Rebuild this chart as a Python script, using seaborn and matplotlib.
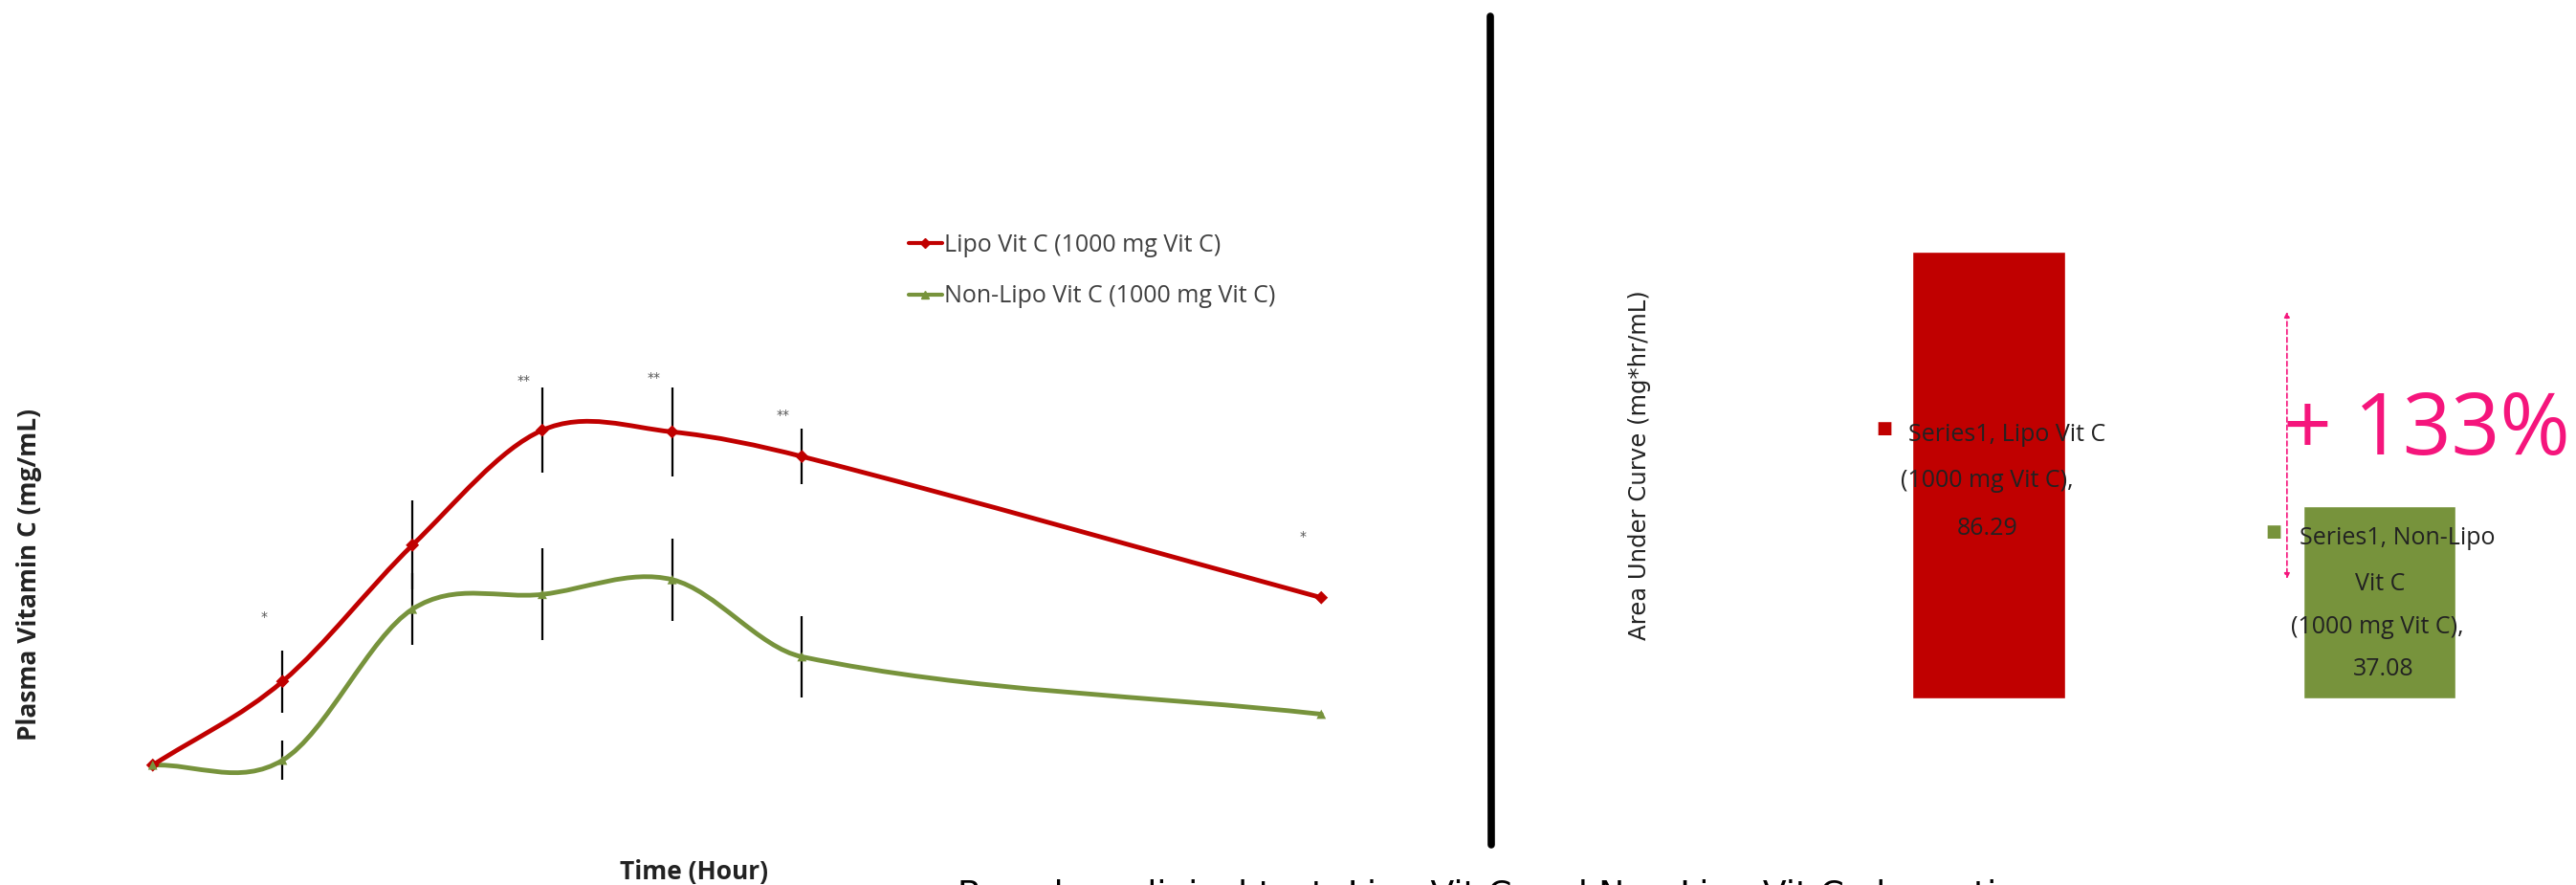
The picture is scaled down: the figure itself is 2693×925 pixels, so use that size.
import numpy as np
import matplotlib
matplotlib.use("Agg")
import matplotlib.pyplot as plt
import seaborn as sns
import pandas as pd
from matplotlib.path import Path
from matplotlib.patches import PathPatch
from matplotlib.lines import Line2D

# ---------------- data ----------------
time_h = [0, 1, 2, 3, 4, 5, 9]
lipo_vals = [0.0, 0.51, 1.34, 2.04, 2.03, 1.88, 1.02]
lipo_err = [0.0, 0.19, 0.27, 0.26, 0.27, 0.17, 0.0]
nonlipo_vals = [0.0, 0.03, 0.95, 1.04, 1.13, 0.66, 0.31]
nonlipo_err = [0.0, 0.12, 0.22, 0.28, 0.25, 0.25, 0.0]
series_names = ["Lipo Vit C (1000 mg Vit C)", "Non-Lipo Vit C (1000 mg Vit C)"]
sig_x = [1, 3, 4, 5, 9]
sig_y = [0.90, 2.34, 2.36, 2.13, 1.39]
sig_txt = ["*", "**", "**", "**", "*"]

auc_categories = ["Lipo Vit C (1000 mg Vit C)", "Non-Lipo Vit C (1000 mg Vit C)"]
auc_values = [86.29, 37.08]
increase_label = "+ 133%"

RED = "#C00000"
GREEN = "#77933C"
PINK = "#F5157C"
TXT = "#404040"

sns.set_theme(style="white")
plt.rcParams["font.family"] = ["DejaVu Sans"]

W, H = 2693, 925
fig = plt.figure(figsize=(W / 100, H / 100), dpi=100)
fig.patch.set_facecolor("white")


def fx(px):
    return px / W


def fy(py):
    return 1 - py / H


# ---------------- left: plasma curve ----------------
ax1_l, ax1_r, ax1_t, ax1_b = 119, 1422, 182, 834
ax1 = fig.add_axes([fx(ax1_l), fy(ax1_b), fx(ax1_r - ax1_l), (ax1_b - ax1_t) / H])
ax1.set_xlim(-0.3, 9.3)
ax1.set_ylim(-0.2, 3.6)


def smooth_path(xs, ys):
    """Cubic Bezier smoothing (finite-difference tangents over x)."""
    pts = np.column_stack([xs, ys]).astype(float)
    n = len(pts)
    tang = []
    for i in range(n):
        a = pts[i - 1] if i > 0 else pts[i]
        b = pts[i + 1] if i < n - 1 else pts[i]
        tang.append((b - a) / (b[0] - a[0]))
    verts = [pts[0]]
    codes = [Path.MOVETO]
    for i in range(n - 1):
        h = pts[i + 1][0] - pts[i][0]
        c1 = pts[i] + tang[i] * h / 3.0
        c2 = pts[i + 1] - tang[i + 1] * h / 3.0
        verts += [c1, c2, pts[i + 1]]
        codes += [Path.CURVE4] * 3
    return Path(verts, codes)


# error bars
for vals, errs in [(lipo_vals, lipo_err), (nonlipo_vals, nonlipo_err)]:
    xs = [t for t, e in zip(time_h, errs) if e > 0]
    ys = [v for v, e in zip(vals, errs) if e > 0]
    es = [e for e in errs if e > 0]
    ax1.errorbar(xs, ys, yerr=es, fmt="none", ecolor="black", elinewidth=1.6, capsize=0, zorder=2)

# smooth lines
for vals, col, z in [(nonlipo_vals, GREEN, 3), (lipo_vals, RED, 4)]:
    patch = PathPatch(smooth_path(time_h, vals), facecolor="none", edgecolor=col,
                      lw=3.5, capstyle="round", joinstyle="round", zorder=z)
    ax1.add_patch(patch)

df = pd.DataFrame({
    "time": time_h * 2,
    "value": lipo_vals + nonlipo_vals,
    "series": [series_names[0]] * len(time_h) + [series_names[1]] * len(time_h),
})
sns.scatterplot(data=df, x="time", y="value", hue="series", style="series",
                palette=[RED, GREEN], markers=["D", "^"], s=50, linewidth=0,
                legend=False, ax=ax1, zorder=5)

for x, y, t in zip(sig_x, sig_y, sig_txt):
    ax1.annotate(t, (x, y), xytext=(-14, 0), textcoords="offset points",
                 ha="center", va="center", fontsize=10, color="#555555")

ax1.set_axis_off()

leg_handles = [
    Line2D([0], [0], color=RED, lw=3, marker="D", markersize=5),
    Line2D([0], [0], color=GREEN, lw=3, marker="^", markersize=6),
]
fig.legend(leg_handles, series_names, loc="center left",
           bbox_to_anchor=(fx(937), fy(283)), frameon=False,
           prop={"family": "Open Sans", "size": 18}, labelcolor=TXT,
           handlelength=1.4, handletextpad=0.1, labelspacing=1.15, borderpad=0)

fig.text(fx(31), fy(601), "Plasma Vitamin C (mg/mL)", rotation=90, ha="center", va="center",
         fontsize=19, fontweight="bold", family="Open Sans", color="#222222")
fig.text(fx(725), fy(912), "Time (Hour)", ha="center", va="center",
         fontsize=19, fontweight="bold", family="Open Sans", color="#222222")

# ---------------- divider ----------------
fig.add_artist(Line2D([fx(1558), fx(1559)], [fy(17), fy(883)], color="black", lw=5.5,
                      transform=fig.transFigure))

# ---------------- right: AUC bars ----------------
ax2_l, ax2_r, ax2_t, ax2_b = 1793, 2692, 130, 730
ax2 = fig.add_axes([fx(ax2_l), fy(ax2_b), fx(ax2_r - ax2_l), (ax2_b - ax2_t) / H])
bdf = pd.DataFrame({"cat": auc_categories, "auc": auc_values})
sns.barplot(data=bdf, x="cat", y="auc", hue="cat", palette=[RED, GREEN],
            width=0.39, legend=False, ax=ax2, saturation=1)
ax2.set_xlim(-0.7, 1.5)
ax2.set_ylim(0, (ax2_b - ax2_t) / 5.41)
ax2.set_axis_off()

lab_font = dict(family="Open Sans", fontsize=18, color="#222222", ha="center", va="center")
label_lines = [
    ["Series1, Lipo Vit C", "(1000 mg Vit C),", f"{auc_values[0]:.2f}"],
    ["Series1, Non-Lipo", "Vit C", "(1000 mg Vit C),", f"{auc_values[1]:.2f}"],
]
label_offsets = [
    [(19, 42), (-2, -6), (-1, -56)],
    [(19, 67), (1, 19), (-2, -26), (4, -70)],
]
square_offsets = [(-109, 49), (-111, 74)]
for i, (val, lines, offs, sq, col) in enumerate(zip(auc_values, label_lines, label_offsets,
                                                     square_offsets, [RED, GREEN])):
    for line, (dx, dy) in zip(lines, offs):
        ax2.annotate(line, (i, val / 2), xytext=(dx * 0.72, dy * 0.72),
                     textcoords="offset points", **lab_font)
    ax2.annotate("■", (i, val / 2), xytext=(sq[0] * 0.72, sq[1] * 0.72),
                 textcoords="offset points", ha="center", va="center",
                 fontsize=13, color=col, family="DejaVu Sans")

# percent increase annotation
ax2.annotate("", xy=(0.763, 23.1), xytext=(0.763, 74.7),
             arrowprops=dict(arrowstyle="<|-|>", color=PINK, lw=1.2, ls=(0, (3, 2)),
                             mutation_scale=8, shrinkA=0, shrinkB=0))
ax2.annotate(increase_label, (0.763, 74.7), xytext=(-3, -0.72 * 126),
             textcoords="offset points", ha="left", va="center",
             fontsize=64, color=PINK, family="Open Sans")

fig.text(fx(1714), fy(486), "Area Under Curve (mg*hr/mL)", rotation=90, ha="center",
         va="center", fontsize=17.5, color="#222222")

# bottom caption (partly cropped in the original)
fig.text(fx(1567), fy(946), "Based on clinical test: Lipo Vit C and Non-Lipo Vit C absorption",
         ha="center", va="baseline", fontsize=26, color="black")

fig.savefig("out.png", dpi=100, facecolor="white")
